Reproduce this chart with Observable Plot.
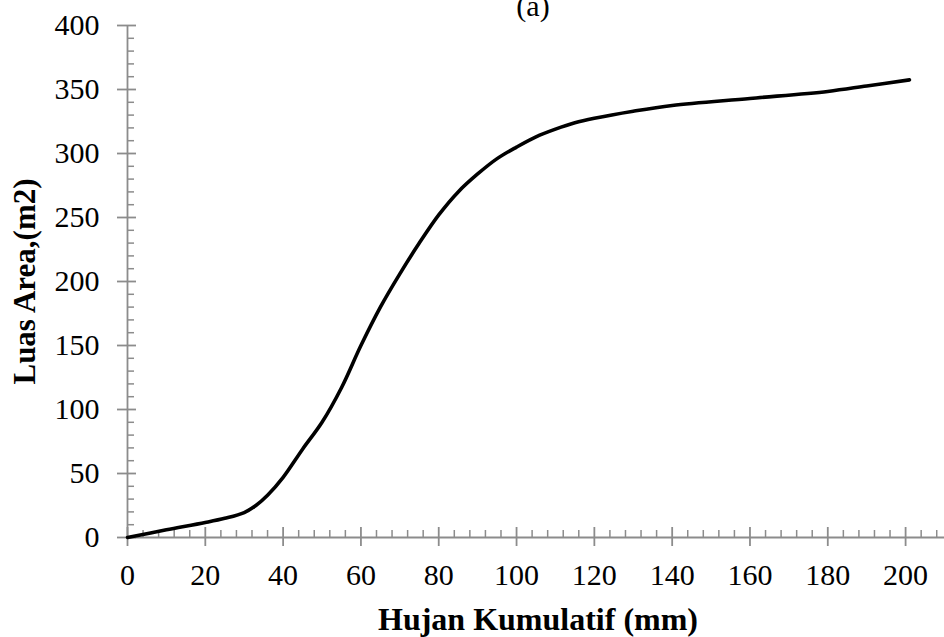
<!DOCTYPE html>
<html>
<head>
<meta charset="utf-8">
<script src="https://cdn.jsdelivr.net/npm/d3@7"></script>
<script src="https://cdn.jsdelivr.net/npm/@observablehq/plot@0.6"></script>
<style>
  html, body { margin: 0; padding: 0; background: #fff; }
</style>
</head>
<body>
<div id="chart"></div>
<script>
// Data
const rainfall = [0, 10, 20, 25, 30, 33, 36, 40, 45, 50, 55, 60, 65, 70, 75, 80, 85, 90, 95, 100, 105, 110, 115, 120, 130, 140, 160, 180, 190, 201];
const area     = [0, 6, 11.7, 15, 19.5, 25, 33, 47, 69, 90, 117, 150, 180, 206, 230, 252, 270, 284, 296, 305, 313, 319, 324, 327.5, 333, 337.5, 343, 348.5, 352.8, 357.5];

const xMajorTicks = [0, 20, 40, 60, 80, 100, 120, 140, 160, 180, 200];
const yMajorTicks = [0, 50, 100, 150, 200, 250, 300, 350, 400];
const xMinorTicks = d3.range(0, 210, 4).filter(v => v % 20 !== 0);
const yMinorTicks = d3.range(0, 400, 10).filter(v => v % 50 !== 0);

const titleText = "(a)";
const xLabel = "Hujan Kumulatif (mm)";
const yLabel = "Luas Area,(m2)";

const data = rainfall.map((x, i) => ({x, y: area[i]}));

const axisColor = "#8c8c8c";
const serif = "'Liberation Serif', 'Times New Roman', Times, serif";

const chart = Plot.plot({
  width: 944,
  height: 637,
  marginLeft: 127,
  marginRight: 0,
  marginTop: 25,
  marginBottom: 100,
  x: {domain: [0, 210]},
  y: {domain: [0, 400]},
  style: {fontFamily: serif, fontSize: "30px", background: "white", color: "black", overflow: "visible"},
  marks: [
    // minor ticks
    Plot.axisX(xMinorTicks, {tickSize: 7, dy: -7, tickFormat: () => "", label: null, stroke: axisColor, strokeWidth: 1.5}),
    Plot.axisY(yMinorTicks, {tickSize: 7, dx: 7, tickFormat: () => "", label: null, stroke: axisColor, strokeWidth: 1.5}),
    // major ticks crossing the axis
    Plot.axisX(xMajorTicks, {tickSize: 19, dy: -10, tickFormat: () => "", label: null, stroke: axisColor, strokeWidth: 1.8}),
    Plot.axisY(yMajorTicks, {tickSize: 19, dx: 9, tickFormat: () => "", label: null, stroke: axisColor, strokeWidth: 1.8}),
    // tick labels
    Plot.axisX(xMajorTicks, {tickSize: 0, tickPadding: 26, label: null, fill: "black", fontSize: 30}),
    Plot.axisY(yMajorTicks, {tickSize: 0, tickPadding: 28, label: null, fill: "black", fontSize: 30}),
    // axis lines
    Plot.ruleY([0], {stroke: axisColor, strokeWidth: 1.8}),
    Plot.ruleX([0], {stroke: axisColor, strokeWidth: 1.8}),
    // curve
    Plot.line(data, {x: "x", y: "y", stroke: "black", strokeWidth: 3.6, curve: "catmull-rom"}),
    // title and axis labels
    Plot.text([titleText], {frameAnchor: "top", textAnchor: "middle", lineAnchor: "top", dy: -31, dx: -3, fontSize: 30, fill: "black"}),
    Plot.text([xLabel], {frameAnchor: "bottom", textAnchor: "middle", lineAnchor: "top", dy: 70, dx: 2, fontSize: 32, fontWeight: "bold", fill: "black"}),
    Plot.text([yLabel], {frameAnchor: "left", textAnchor: "middle", lineAnchor: "top", rotate: -90, dx: -115, fontSize: 31, fontWeight: "bold", fill: "black"})
  ]
});

document.getElementById("chart").appendChild(chart);
</script>
</body>
</html>
